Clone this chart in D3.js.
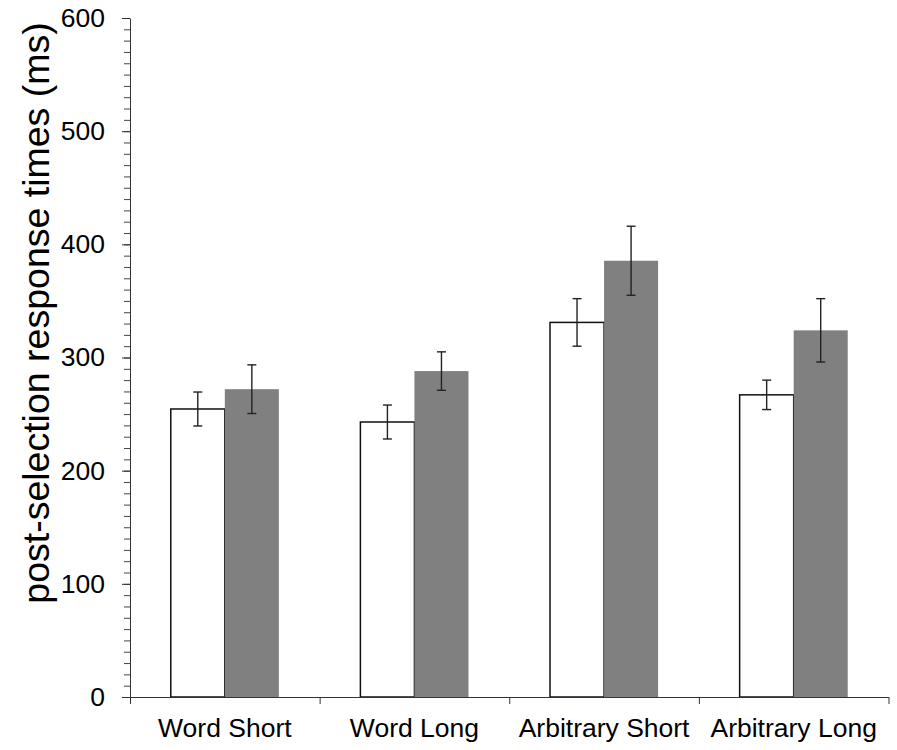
<!DOCTYPE html>
<html>
<head>
<meta charset="utf-8">
<script src="https://cdn.jsdelivr.net/npm/d3@7"></script>
<style>
  body { margin: 0; background: #fff; }
  svg { font-family: "Liberation Sans", Arial, sans-serif; }
</style>
</head>
<body>
<div id="chart"></div>
<script>
// values
const categories = ["Word Short", "Word Long", "Arbitrary Short", "Arbitrary Long"];
const seriesNames = ["white", "gray"];
const whiteMeans = [254.5, 243, 331, 267];
const whiteErrors = [15, 15, 21, 13];
const grayMeans = [272, 288, 385.5, 324];
const grayErrors = [21.5, 17, 30.5, 28];
const yTicks = [0, 100, 200, 300, 400, 500, 600];
const yTitle = "post-selection response times (ms)";

const width = 897, height = 750;
const margin = { top: 18, right: 8.5, bottom: 53, left: 130 };
const innerW = width - margin.left - margin.right;
const innerH = height - margin.top - margin.bottom;

const svg = d3.select("#chart")
  .append("svg")
  .attr("width", width)
  .attr("height", height);

const g = svg.append("g")
  .attr("transform", "translate(" + margin.left + "," + margin.top + ")");

const x0 = d3.scaleBand()
  .domain(categories)
  .range([0, innerW])
  .paddingInner(0.43)
  .paddingOuter(0.215);

const x1 = d3.scaleBand()
  .domain(seriesNames)
  .range([0, x0.bandwidth()]);

const y = d3.scaleLinear()
  .domain([0, 600])
  .range([innerH, 0]);

const colors = d3.scaleOrdinal()
  .domain(seriesNames)
  .range(["#ffffff", "#808080"]);

const rows = categories.map((c, i) => ({
  cat: c,
  values: [
    { key: "white", mean: whiteMeans[i], err: whiteErrors[i] },
    { key: "gray", mean: grayMeans[i], err: grayErrors[i] }
  ]
}));

// bars
const groups = g.selectAll(".grp")
  .data(rows)
  .enter()
  .append("g")
  .attr("transform", d => "translate(" + x0(d.cat) + ",0)");

groups.selectAll("rect")
  .data(d => d.values)
  .enter()
  .append("rect")
  .attr("x", d => x1(d.key))
  .attr("y", d => y(d.mean))
  .attr("width", x1.bandwidth())
  .attr("height", d => y(0) - y(d.mean))
  .attr("fill", d => colors(d.key))
  .attr("stroke", d => d.key === "white" ? "#111" : "none")
  .attr("stroke-width", 1.5);

// error bars
const capW = 4.5;
const eb = groups.selectAll(".eb")
  .data(d => d.values)
  .enter()
  .append("g")
  .attr("stroke", "#222")
  .attr("stroke-width", 1.4);

eb.append("line")
  .attr("x1", d => x1(d.key) + x1.bandwidth() / 2)
  .attr("x2", d => x1(d.key) + x1.bandwidth() / 2)
  .attr("y1", d => y(d.mean + d.err))
  .attr("y2", d => y(d.mean - d.err));

eb.selectAll(".cap")
  .data(d => [d.mean + d.err, d.mean - d.err].map(v => ({ key: d.key, v: v })))
  .enter()
  .append("line")
  .attr("x1", d => x1(d.key) + x1.bandwidth() / 2 - capW)
  .attr("x2", d => x1(d.key) + x1.bandwidth() / 2 + capW)
  .attr("y1", d => y(d.v))
  .attr("y2", d => y(d.v));

// y axis, minor ticks then major ticks with labels
g.append("g")
  .call(d3.axisLeft(y).tickValues(d3.range(0, 601, 10)).tickSize(6).tickFormat(""))
  .call(a => a.select(".domain").remove())
  .selectAll("line").attr("stroke", "#444");

const yAxis = g.append("g")
  .call(d3.axisLeft(y).tickValues(yTicks).tickSize(8).tickPadding(17).tickSizeOuter(0));
yAxis.select(".domain").attr("stroke", "#333");
yAxis.selectAll("line").attr("stroke", "#333");
yAxis.selectAll("text")
  .attr("font-size", 26.5)
  .attr("fill", "#000");

// x axis: boundary ticks between categories
const xb = d3.scaleLinear().domain([0, categories.length]).range([0, innerW]);
const xAxis = g.append("g")
  .attr("transform", "translate(0," + innerH + ")")
  .call(d3.axisBottom(xb).ticks(categories.length).tickSize(7).tickFormat("").tickSizeOuter(0));
xAxis.select(".domain").attr("stroke", "#333");
xAxis.selectAll("line").attr("stroke", "#333");

const xLabels = g.append("g")
  .attr("transform", "translate(0," + innerH + ")")
  .call(d3.axisBottom(x0).tickSize(0).tickPadding(21));
xLabels.select(".domain").remove();
xLabels.selectAll("text")
  .attr("font-size", 26.5)
  .attr("fill", "#000");

// y title
svg.append("text")
  .attr("transform", "translate(49,313) rotate(-90)")
  .attr("text-anchor", "middle")
  .attr("font-size", 37.5)
  .attr("fill", "#000")
  .text(yTitle);
</script>
</body>
</html>
